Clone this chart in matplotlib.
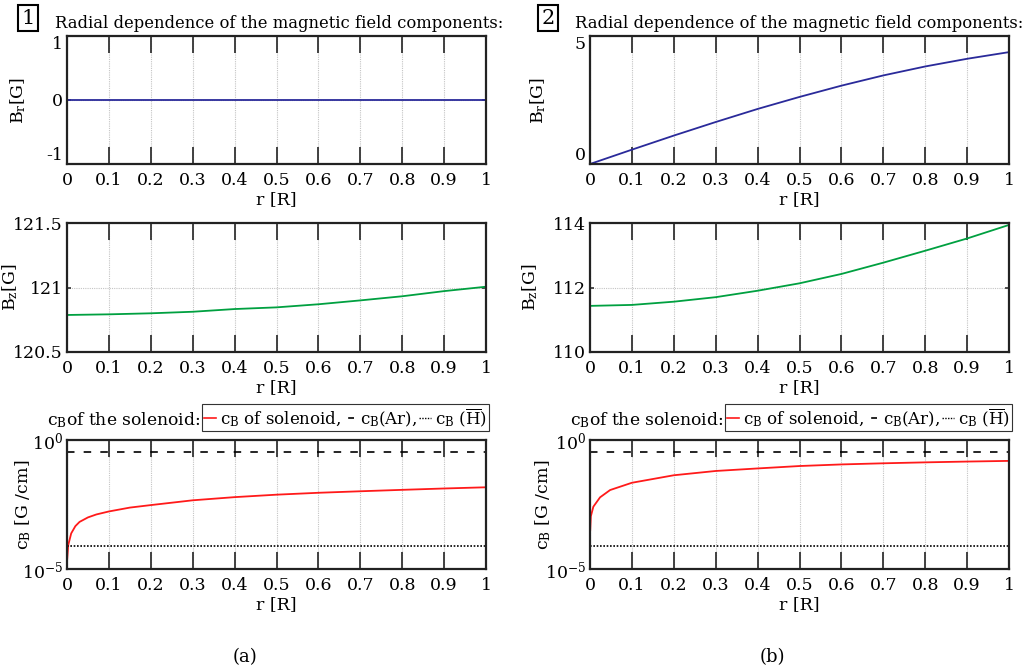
import matplotlib
matplotlib.use("Agg")
import matplotlib.pyplot as plt
from matplotlib.lines import Line2D

plt.rcParams['font.family'] = 'DejaVu Serif'
plt.rcParams['mathtext.fontset'] = 'custom'
plt.rcParams['mathtext.rm'] = 'DejaVu Serif'
plt.rcParams['mathtext.it'] = 'DejaVu Serif:italic'
plt.rcParams['font.size'] = 12.5

# radial positions (in units of R)
r_grid = [0.0, 0.1, 0.2, 0.3, 0.4, 0.5, 0.6, 0.7, 0.8, 0.9, 1.0]

# case 1
br_a = [0.0, 0.0, 0.0, 0.0, 0.0, 0.0, 0.0, 0.0, 0.0, 0.0, 0.0]
bz_a = [120.787, 120.792, 120.80, 120.812, 120.833, 120.846, 120.87, 120.90, 120.932, 120.972, 121.006]
r_cb_a = [0.0005, 0.003, 0.01, 0.02, 0.03, 0.05, 0.07, 0.1, 0.15, 0.2, 0.3,
          0.4, 0.5, 0.6, 0.7, 0.8, 0.9, 1.0]
cb_a = [2.5e-5, 8.5e-5, 2.4e-4, 4.6e-4, 6.7e-4, 1.0e-3, 1.3e-3, 1.7e-3, 2.4e-3,
        3.0e-3, 4.6e-3, 6.1e-3, 7.6e-3, 9.0e-3, 1.03e-2, 1.17e-2, 1.32e-2, 1.47e-2]

# case 2
br_b = [0.0, 0.56, 1.11, 1.64, 2.15, 2.62, 3.06, 3.46, 3.81, 4.11, 4.37]
bz_b = [111.43, 111.46, 111.56, 111.70, 111.90, 112.13, 112.42, 112.77, 113.14, 113.52, 113.94]
r_cb_b = [0.0005, 0.002, 0.008, 0.024, 0.048, 0.1, 0.2, 0.3, 0.4, 0.5,
          0.6, 0.7, 0.8, 0.9, 1.0]
cb_b = [3.2e-4, 1.1e-3, 2.6e-3, 6.0e-3, 1.15e-2, 2.2e-2, 4.3e-2, 6.3e-2, 7.9e-2,
        9.8e-2, 1.13e-1, 1.25e-1, 1.36e-1, 1.46e-1, 1.55e-1]

# reference levels
cb_ar = 0.33
cb_h = 8e-5

x_ticks = [0, 0.1, 0.2, 0.3, 0.4, 0.5, 0.6, 0.7, 0.8, 0.9, 1]
x_ticklabels = ['0', '0.1', '0.2', '0.3', '0.4', '0.5', '0.6', '0.7', '0.8', '0.9', '1']

W, H = 1029, 672
fig = plt.figure(figsize=(W / 100, H / 100), dpi=100)


def px_axes(x0, x1, y0, y1):
    return fig.add_axes([x0 / W, 1 - y1 / H, (x1 - x0) / W, (y1 - y0) / H])


def style(ax, ylab, ylab_x):
    ax.set_xlim(0, 1)
    ax.set_xticks(x_ticks)
    ax.set_xticklabels(x_ticklabels)
    ax.set_xlabel('r [R]', labelpad=1)
    ax.set_ylabel(ylab)
    ax.yaxis.set_label_coords(ylab_x, 0.5)
    ax.tick_params(axis='x', direction='in', length=12, width=1.3, color='#333333',
                   top=True, pad=6)
    ax.tick_params(axis='y', direction='in', length=3, width=1.2, color='#333333',
                   right=True, pad=3)
    ax.minorticks_off()
    ax.grid(True, color='#c4c4c4', linestyle=(0, (1, 1)), linewidth=0.8)
    for s in ax.spines.values():
        s.set_linewidth(1.6)
        s.set_color('#222222')


cols = [
    (67, 486, br_a, bz_a, r_cb_a, cb_a, (-1, 1), [-1, 0, 1], ['-1', '0', '1'],
     (120.5, 121.5), [120.5, 121, 121.5], ['120.5', '121', '121.5'],
     (-0.093, -0.112, -0.081)),
    (590, 1009, br_b, bz_b, r_cb_b, cb_b, (0, 5), [0, 5], ['0', '5'],
     (110, 114), [110, 112, 114], ['110', '112', '114'],
     (-0.10, -0.119, -0.088)),
]

legends = []
for x0, x1, br, bz, rc, cb, brlim, brt, brtl, bzlim, bzt, bztl, labx in cols:
    # B_r
    ax1 = px_axes(x0, x1, 36, 164)
    ax1.plot(r_grid, br, color='#2a2a9a', linewidth=1.3)
    ax1.set_ylim(*brlim)
    ax1.set_yticks(brt)
    ax1.set_yticklabels(brtl)
    style(ax1, r'B$_\mathrm{r}$[G]', labx[0])
    tl = ax1.get_yticklabels()
    tl[0].set_va('bottom')
    tl[-1].set_va('top')

    # B_z
    ax2 = px_axes(x0, x1, 223, 352)
    ax2.plot(r_grid, bz, color='#00a040', linewidth=1.3)
    ax2.set_ylim(*bzlim)
    ax2.set_yticks(bzt)
    ax2.set_yticklabels(bztl)
    style(ax2, r'B$_\mathrm{z}$[G]', labx[1])

    # c_B
    ax3 = px_axes(x0, x1, 440, 569)
    ax3.set_yscale('log')
    ax3.plot(rc, cb, color='#ff1a1a', linewidth=1.3)
    ax3.axhline(cb_ar, color='black', linewidth=1.2, dashes=(4.5, 5.5))
    ax3.axhline(cb_h, color='black', linewidth=1.2, linestyle=(0, (1, 1)))
    ax3.set_ylim(1e-5, 1)
    ax3.set_yticks([1e-5, 1])
    ax3.set_yticklabels([r'10$^{-5}$', r'10$^{0}$'])
    style(ax3, r'c$_\mathrm{B}$ [G /cm]', labx[2])

    handles = [Line2D([], [], color='#ff1a1a', linewidth=1.2),
               Line2D([], [], color='black', linewidth=1.2, linestyle=(11, (3.5, 10))),
               Line2D([], [], color='black', linewidth=1.0, linestyle=(0, (1, 1)))]
    labels = [r'c$_\mathrm{B}$ of solenoid,', r'c$_\mathrm{B}$(Ar),',
              r'c$_\mathrm{B}$ ($\overline{\mathrm{H}}$)']
    leg = fig.legend(handles, labels, ncol=3, loc='lower right',
                     bbox_to_anchor=((x1 + 3) / W, 1 - 431 / H),
                     handlelength=0.7, handletextpad=0.25, columnspacing=0.15,
                     borderpad=0.12, borderaxespad=0, fancybox=False,
                     framealpha=1, edgecolor='#333333', fontsize=12)
    leg.get_frame().set_linewidth(0.8)
    legends.append(leg)

# put the "c_B of the solenoid:" caption just left of each legend box
fig.canvas.draw()
renderer = fig.canvas.get_renderer()
for leg in legends:
    bb = leg.get_window_extent(renderer)
    fig.text((bb.x0 - 2) / W, 1 - 420 / H, r'c$_\mathrm{B}$of the solenoid:',
             ha='right', va='center', fontsize=12.3)

for num, bx, tx in [('1', 28, 55), ('2', 548, 575)]:
    fig.text(bx / W, 1 - 18 / H, num, ha='center', va='center', fontsize=15,
             bbox=dict(boxstyle='square,pad=0.15', facecolor='white',
                       edgecolor='black', linewidth=1.5))
    fig.text(tx / W, 1 - 23 / H, 'Radial dependence of the magnetic field components:',
             ha='left', va='center', fontsize=11.75)

fig.text(245 / W, 1 - 657 / H, '(a)', ha='center', va='center', fontsize=13)
fig.text(772 / W, 1 - 657 / H, '(b)', ha='center', va='center', fontsize=13)

fig.savefig('out.png', dpi=100)
